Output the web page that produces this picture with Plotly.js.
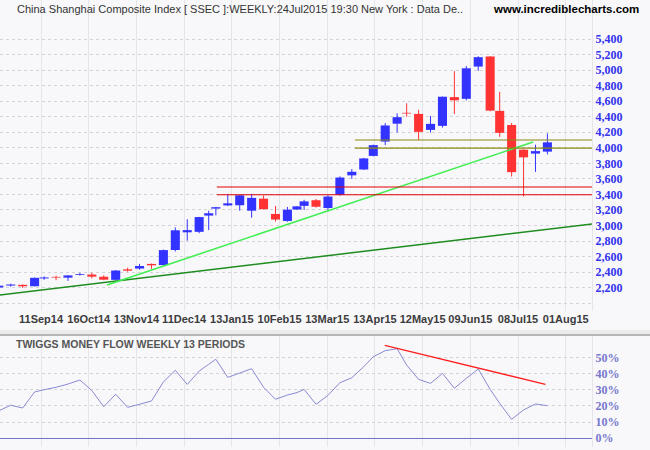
<!DOCTYPE html>
<html>
<head>
<meta charset="utf-8">
<script src="https://cdn.plot.ly/plotly-3.0.1.min.js"></script>
<style>
  body { margin: 0; background: #f8f8fa; }
  #chart { width: 650px; height: 450px; }
</style>
</head>
<body>
<div id="chart"></div>
<script>
// weekly bars (week ending)
let weeks = ['15Aug14','22Aug14','29Aug14','05Sep14','12Sep14','19Sep14','26Sep14','10Oct14','17Oct14','24Oct14',
  '31Oct14','07Nov14','14Nov14','21Nov14','28Nov14','05Dec14','12Dec14','19Dec14','26Dec14','31Dec14',
  '09Jan15','16Jan15','23Jan15','30Jan15','06Feb15','13Feb15','17Feb15','27Feb15','06Mar15','13Mar15',
  '20Mar15','27Mar15','03Apr15','10Apr15','17Apr15','24Apr15','30Apr15','08May15','15May15','22May15',
  '29May15','05Jun15','12Jun15','19Jun15','26Jun15','03Jul15','10Jul15','17Jul15','24Jul15']
// trading day of each bar, counted from 11Sep14
let tday = [-18,-13,-8,-3,1,6,11,16,21,26,31,36,41,46,51,56,61,66,70,73,78,83,88,93,98,103,107,110,115,120,
  125,130,135,139,144,149,153,158,163,168,173,178,183,188,192,197,202,207,212]
let open = [2202,2226,2236,2218,2318,2338,2328,2365,2368,2340,2300,2435,2445,2505,2490,2684,2912,2918,3127,3217,
  3258,3260,3190,3345,3148,3058,3205,3252,3325,3225,3395,3645,3720,3895,4080,4310,4450,4436,4230,4282,
  4652,4630,5045,5175,4475,4293,3975,3925,3950]
let high = [2228,2250,2240,2330,2345,2352,2362,2391,2392,2360,2425,2456,2505,2510,2690,2975,3080,3110,3190,3240,
  3406,3392,3406,3385,3250,3238,3250,3330,3340,3390,3632,3726,3870,4040,4317,4444,4572,4488,4410,4660,
  4986,5052,5178,5178,4720,4320,3980,4040,4184]
let low = [2196,2213,2196,2215,2300,2296,2287,2356,2320,2296,2290,2405,2430,2440,2485,2665,2805,2900,2940,3130,
  3250,3190,3100,3205,3050,3049,3200,3200,3230,3200,3385,3600,3715,3890,4035,4195,4400,4100,4195,4260,
  4435,4610,4990,4470,4140,3629,3373,3690,3915]
let close = [2225,2240,2217,2326,2331,2329,2357,2375,2341,2302,2420,2418,2478,2487,2683,2938,2940,3108,3157,3235,
  3285,3388,3355,3210,3076,3203,3246,3310,3241,3372,3617,3691,3863,4034,4287,4394,4441,4205,4308,4657,
  4611,5023,5166,4478,4192,3686,3877,3957,4070]
// twiggs money flow, %
let moneyFlow = [17.0,20.4,18.7,28.6,30.0,31.5,33.5,36.0,29.5,19.5,27.2,19.1,21.0,23.0,34.8,42.0,33.3,41.5,45.7,48.8,
  37.6,40.5,43.0,31.5,24.1,26.7,28.2,30.2,21.0,26.5,34.3,37.4,44.2,50.4,54.1,55.3,45.2,36.4,33.9,40.1,
  30.9,37.0,42.8,30.2,21.6,11.7,17.5,21.2,20.1]

let tickDays = [0,20,40,60,80,100,120,140,160,180,200,220]
let tickText = ['11Sep14','16Oct14','13Nov14','11Dec14','13Jan15','10Feb15','13Mar15','13Apr15','12May15','09Jun15','08Jul15','01Aug15']
let priceTicks = [2000,2200,2400,2600,2800,3000,3200,3400,3600,3800,4000,4200,4400,4600,4800,5000,5200,5400]
let flowTicks = [0,10,20,30,40,50]

// trend lines
let longTrendT = [-18, 231]
let longTrendV = [2104, 3020]
let shortTrendT = [27.4, 206]
let shortTrendV = [2234, 4074]
let redLineT = [73.4, 231]
let redLines = [3495, 3395]
let oliveLineT = [131.3, 231]
let oliveLines = [4100, 3995]
let flowTrendT = [143.8, 211.2]
let flowTrendV = [57.4, 33.3]

const UP = '#3333ff'
const DOWN = '#ff3333'
const shift = 0.3

let up = []
let down = []
for (let i = 0; i < tday.length; i++) {
  if (close[i] >= open[i]) up.push(i)
  else down.push(i)
}

function wicks (idx, color) {
  return {
    type: 'scatter',
    mode: 'markers',
    hoverinfo: 'skip',
    x: idx.map(i => tday[i]),
    y: idx.map(i => low[i]),
    marker: {size: 1, color: 'rgba(0,0,0,0)'},
    error_y: {
      type: 'data',
      symmetric: false,
      array: idx.map(i => high[i] - low[i]),
      arrayminus: idx.map(() => 0),
      color: color,
      thickness: 1,
      width: 0
    }
  }
}

function hline (t, v, color, width, axes) {
  return {
    type: 'scatter',
    mode: 'lines',
    hoverinfo: 'skip',
    x: t,
    y: v,
    xaxis: axes ? axes[0] : 'x',
    yaxis: axes ? axes[1] : 'y',
    line: {color: color, width: width}
  }
}

let bodies = {
  type: 'bar',
  hoverinfo: 'skip',
  x: tday,
  base: tday.map((d, i) => Math.min(open[i], close[i])),
  y: tday.map((d, i) => Math.max(Math.abs(close[i] - open[i]), 1)),
  width: 3.8,
  marker: {
    color: tday.map((d, i) => close[i] >= open[i] ? UP : DOWN),
    line: {width: 0}
  }
}

let flow = {
  type: 'scatter',
  mode: 'lines',
  hoverinfo: 'skip',
  x: tday,
  y: moneyFlow,
  xaxis: 'x2',
  yaxis: 'y2',
  line: {color: '#8a8ad2', width: 1}
}

let traces = [
  bodies,
  wicks(up, UP),
  wicks(down, DOWN),
  hline(longTrendT, longTrendV, '#1e8c1e', 1.5),
  hline(shortTrendT, shortTrendV, '#44ee55', 1.6),
  hline(redLineT, [redLines[0], redLines[0]], '#e00000', 1.2),
  hline(redLineT, [redLines[1], redLines[1]], '#e00000', 1.2),
  hline(oliveLineT, [oliveLines[0], oliveLines[0]], '#8a8a10', 1.2),
  hline(oliveLineT, [oliveLines[1], oliveLines[1]], '#8a8a10', 1.2),
  flow,
  hline(flowTrendT, flowTrendV, '#ff2020', 1.3, ['x2', 'y2'])
]

let gridX = '#e4e4e9'
let gridY = '#d4d4d8'
let tickFontR = {family: 'Liberation Serif, Times New Roman, serif', size: 12, color: '#3333ee', weight: 'bold'}

let layout = {
  width: 650,
  height: 450,
  margin: {l: 0, r: 58, t: 0, b: 0, pad: 0},
  paper_bgcolor: '#f8f8fa',
  plot_bgcolor: '#f8f8fa',
  showlegend: false,
  xaxis: {
    anchor: 'y',
    range: [-17.5, 230.7],
    tickmode: 'array',
    tickvals: tickDays.map(d => d - shift),
    ticktext: tickText,
    tickangle: 0,
    ticks: '',
    showline: false,
    zeroline: false,
    gridcolor: gridX,
    gridwidth: 1,
    tickfont: {family: 'Liberation Sans, Arial, sans-serif', size: 11, color: '#3c3c3c', weight: 'bold'},
    fixedrange: true
  },
  xaxis2: {
    anchor: 'y2',
    matches: 'x',
    tickmode: 'array',
    tickvals: tickDays.map(d => d - shift),
    showticklabels: false,
    ticks: '',
    zeroline: false,
    gridcolor: gridX,
    gridwidth: 1
  },
  yaxis: {
    domain: [1 - 311 / 450, 1],
    side: 'right',
    range: [1899, 5902],
    tickmode: 'array',
    tickvals: priceTicks,
    ticktext: priceTicks.map(v => v === 2000 ? '' : v.toLocaleString('en-US')),
    ticks: '',
    showline: true,
    linecolor: gridX,
    zeroline: false,
    gridcolor: gridY,
    griddash: 'dot',
    tickfont: tickFontR
  },
  yaxis2: {
    domain: [1 - 447 / 450, 1 - 335 / 450],
    side: 'right',
    range: [-5.4, 63.8],
    tickmode: 'array',
    tickvals: flowTicks,
    ticktext: flowTicks.map(v => v + '%'),
    ticks: '',
    showline: true,
    linecolor: gridX,
    gridcolor: gridY,
    griddash: 'dot',
    zeroline: true,
    zerolinecolor: '#7272c8',
    zerolinewidth: 1.5,
    tickfont: Object.assign({}, tickFontR, {color: '#7777cc'})
  },
  shapes: [
    {type: 'rect', xref: 'paper', yref: 'paper', x0: 0, x1: 650 / 592, y0: 1 - 334 / 450, y1: 1 - 330 / 450,
      fillcolor: '#ebebeb', line: {width: 0}},
    {type: 'line', xref: 'paper', yref: 'paper', x0: 0, x1: 650 / 592, y0: 1 - 335 / 450, y1: 1 - 335 / 450,
      line: {color: '#a0a0a0', width: 1.5}}
  ],
  annotations: [
    {xref: 'paper', yref: 'paper', x: 15 / 592, y: 1 - 9 / 450, xanchor: 'left', yanchor: 'middle', showarrow: false,
      text: 'China Shanghai Composite Index [ SSEC ]:WEEKLY:24Jul2015 19:30 New York : Data De..',
      font: {family: 'Liberation Sans, Arial, sans-serif', size: 11, color: '#333'}},
    {xref: 'paper', yref: 'paper', x: 641 / 592, y: 1 - 9 / 450, xanchor: 'right', yanchor: 'middle', showarrow: false,
      text: 'www.incrediblecharts.com',
      font: {family: 'Liberation Sans, Arial, sans-serif', size: 11.5, color: '#000', weight: 'bold'}},
    {xref: 'paper', yref: 'paper', x: 14 / 592, y: 1 - 343.5 / 450, xanchor: 'left', yanchor: 'middle', showarrow: false,
      text: 'TWIGGS MONEY FLOW WEEKLY 13 PERIODS',
      font: {family: 'Liberation Sans, Arial, sans-serif', size: 10.5, color: '#555', weight: 'bold'}}
  ]
}

Plotly.newPlot('chart', traces, layout, {displayModeBar: false, staticPlot: true})
</script>
</body>
</html>
